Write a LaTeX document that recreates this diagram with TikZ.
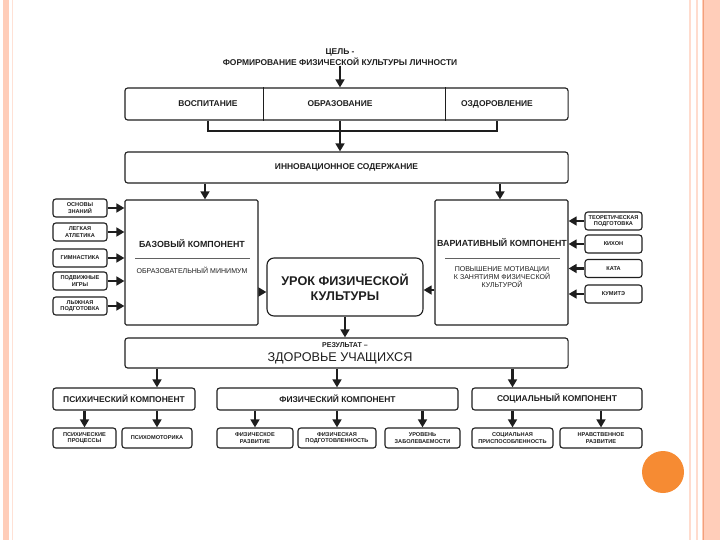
\documentclass[tikz,border=0pt]{standalone}
\usepackage{fontspec}
\setmainfont{Liberation Sans}
\usepackage{xcolor}
\usetikzlibrary{arrows.meta, positioning}

\definecolor{ink}{HTML}{1E1E1E}
\definecolor{peach}{HTML}{FFCDB9}
\definecolor{rim}{HTML}{F2A07C}
\definecolor{dot}{HTML}{F68B33}

\begin{document}
\begin{tikzpicture}[
  x=0.025cm, y=-0.025cm,
  box/.style={draw=ink, rounded corners=2pt, line width=0.8pt, align=center, inner sep=1pt,
    text=ink, font=\fontsize{6}{7}\selectfont\bfseries},
  smallbox/.style={box, font=\fontsize{4}{4.6}\selectfont\bfseries, minimum height=0.45cm},
  subbox/.style={box, font=\fontsize{4}{4.8}\selectfont\bfseries, minimum height=0.5cm},
  lbl/.style={align=center, text=ink, inner sep=0pt, font=\fontsize{6}{7.5}\selectfont\bfseries},
  arr/.style={-{Triangle[length=2mm, width=2.2mm]}, line width=1.7pt, draw=ink}
]
\useasboundingbox (0,0) rectangle (720,540);

% slide frame
\fill[peach] (702,0) rectangle (720,540);
\draw[rim, line width=0.6pt] (703,0) -- (703,540);
\draw[peach!70, line width=0.8pt] (690,0) -- (690,540);
\draw[peach!70, line width=0.8pt] (697,0) -- (697,540);
\fill[peach] (3,0) rectangle (9,540);
\draw[peach!60, line width=0.5pt] (12,0) -- (12,540);
\fill[dot] (663,472) circle (0.525cm);

% goal
\node[lbl] (goal) at (340,57) {ЦЕЛЬ -\\ФОРМИРОВАНИЕ ФИЗИЧЕСКОЙ КУЛЬТУРЫ ЛИЧНОСТИ};
\node[box, minimum width=11.075cm, minimum height=0.8cm] (aims) at (346.5,104) {};
\node[lbl] (vosp) at (208,104) {ВОСПИТАНИЕ};
\node[lbl] (obr) at (340,104) {ОБРАЗОВАНИЕ};
\node[lbl] (ozd) at (497,104) {ОЗДОРОВЛЕНИЕ};
\draw[ink, line width=0.6pt] (263,0 |- aims.north) -- (263,0 |- aims.south);
\draw[ink, line width=0.6pt] (445,0 |- aims.north) -- (445,0 |- aims.south);
\draw[arr] (goal) -- (aims.north -| goal);
\draw[ink, line width=1.7pt] (vosp |- aims.south) -- (vosp |- 0,131) -| (ozd |- aims.south);

\node[box, minimum width=11.075cm, minimum height=0.775cm] (innov) at (346.5,167.5) {ИННОВАЦИОННОЕ СОДЕРЖАНИЕ};
\draw[arr] (aims.south -| obr) -- (innov.north -| obr);

% components of the content
\node[box, rounded corners=1pt, minimum width=3.325cm, minimum height=3.125cm] (base) at (191.5,262.5) {};
\node[lbl, font=\fontsize{6.3}{7}\selectfont\bfseries] (baset) at (192,244) {БАЗОВЫЙ КОМПОНЕНТ};
\draw[ink!70, line width=0.4pt] (135,258) -- (250,258);
\node[lbl, font=\fontsize{5}{6}\selectfont] (basemin) at (192,270) {ОБРАЗОВАТЕЛЬНЫЙ МИНИМУМ};

\node[box, rounded corners=1pt, minimum width=3.325cm, minimum height=3.125cm] (var) at (501.5,262.5) {};
\node[lbl, font=\fontsize{6.3}{7}\selectfont\bfseries] (vart) at (502,243) {ВАРИАТИВНЫЙ КОМПОНЕНТ};
\draw[ink!70, line width=0.4pt] (445,258) -- (560,258);
\node[lbl, font=\fontsize{5}{5.8}\selectfont] (varmot) at (502,277) {ПОВЫШЕНИЕ МОТИВАЦИИ\\К ЗАНЯТИЯМ ФИЗИЧЕСКОЙ\\КУЛЬТУРОЙ};

\draw[arr] (innov.south -| 205,0) -- (base.north -| 205,0);
\draw[arr] (innov.south -| 500,0) -- (var.north -| 500,0);

\node[box, rounded corners=5pt, minimum width=3.9cm, minimum height=1.45cm,
  font=\fontsize{9}{10.5}\selectfont\bfseries] (lesson) at (345,287) {УРОК ФИЗИЧЕСКОЙ\\КУЛЬТУРЫ};
\draw[arr] (base.east |- 0,292) -- (lesson.west |- 0,292);
\draw[arr] (var.west |- 0,290) -- (lesson.east |- 0,290);

% basic sections
\node[smallbox, minimum width=1.35cm] (znan) at (80,208) {ОСНОВЫ\\ЗНАНИЙ};
\node[smallbox, minimum width=1.35cm] (atl) at (80,232) {ЛЕГКАЯ\\АТЛЕТИКА};
\node[smallbox, minimum width=1.35cm] (gimn) at (80,258) {ГИМНАСТИКА};
\node[smallbox, minimum width=1.35cm] (igry) at (80,281) {ПОДВИЖНЫЕ\\ИГРЫ};
\node[smallbox, minimum width=1.35cm] (lyzh) at (80,306) {ЛЫЖНАЯ\\ПОДГОТОВКА};
\draw[arr] (znan) -- (base.west |- znan);
\draw[arr] (atl) -- (base.west |- atl);
\draw[arr] (gimn) -- (base.west |- gimn);
\draw[arr] (igry) -- (base.west |- igry);
\draw[arr] (lyzh) -- (base.west |- lyzh);

% variative sections
\node[smallbox, minimum width=1.425cm] (teor) at (613.5,221) {ТЕОРЕТИЧЕСКАЯ\\ПОДГОТОВКА};
\node[smallbox, minimum width=1.425cm] (kihon) at (613.5,244) {КИХОН};
\node[smallbox, minimum width=1.425cm] (kata) at (613.5,268.5) {КАТА};
\node[smallbox, minimum width=1.425cm] (kumite) at (613.5,294) {КУМИТЭ};
\draw[arr] (teor) -- (var.east |- teor);
\draw[arr] (kihon) -- (var.east |- kihon);
\draw[arr] (kata) -- (var.east |- kata);
\draw[arr] (kumite) -- (var.east |- kumite);

% result
\node[box, minimum width=11.075cm, minimum height=0.75cm] (res) at (346.5,353) {};
\node[lbl, font=\fontsize{5}{6}\selectfont\bfseries] (restitle) at (345,345) {РЕЗУЛЬТАТ –};
\node[lbl, font=\fontsize{9}{10}\selectfont] (health) at (340,358) {ЗДОРОВЬЕ УЧАЩИХСЯ};
\draw[arr] (lesson) -- (res.north -| lesson);

\node[box, minimum width=3.55cm, minimum height=0.55cm] (psy) at (124,399) {ПСИХИЧЕСКИЙ КОМПОНЕНТ};
\node[box, minimum width=6.025cm, minimum height=0.55cm] (phys) at (337.5,399) {ФИЗИЧЕСКИЙ КОМПОНЕНТ};
\node[box, minimum width=4.25cm, minimum height=0.55cm] (soc) at (557,399) {СОЦИАЛЬНЫЙ КОМПОНЕНТ};

\node[subbox, minimum width=1.575cm] (pp) at (84.5,438) {ПСИХИЧЕСКИЕ\\ПРОЦЕССЫ};
\node[subbox, minimum width=1.75cm] (pm) at (157,438) {ПСИХОМОТОРИКА};
\node[subbox, minimum width=1.9cm] (fr) at (255,438) {ФИЗИЧЕСКОЕ\\РАЗВИТИЕ};
\node[subbox, minimum width=1.95cm] (fp) at (337,438) {ФИЗИЧЕСКАЯ\\ПОДГОТОВЛЕННОСТЬ};
\node[subbox, minimum width=1.875cm] (uz) at (422.5,438) {УРОВЕНЬ\\ЗАБОЛЕВАЕМОСТИ};
\node[subbox, minimum width=2.025cm] (sp) at (512.5,438) {СОЦИАЛЬНАЯ\\ПРИСПОСОБЛЕННОСТЬ};
\node[subbox, minimum width=2.05cm] (nr) at (601,438) {НРАВСТВЕННОЕ\\РАЗВИТИЕ};

\draw[arr] (res.south -| pm) -- (psy.north -| pm);
\draw[arr] (res.south -| fp) -- (phys.north -| fp);
\draw[arr] (res.south -| sp) -- (soc.north -| sp);
\draw[arr] (psy.south -| pp) -- (pp);
\draw[arr] (psy.south -| pm) -- (pm);
\draw[arr] (phys.south -| fr) -- (fr);
\draw[arr] (phys.south -| fp) -- (fp);
\draw[arr] (phys.south -| uz) -- (uz);
\draw[arr] (soc.south -| sp) -- (sp);
\draw[arr] (soc.south -| nr) -- (nr);
\end{tikzpicture}
\end{document}
